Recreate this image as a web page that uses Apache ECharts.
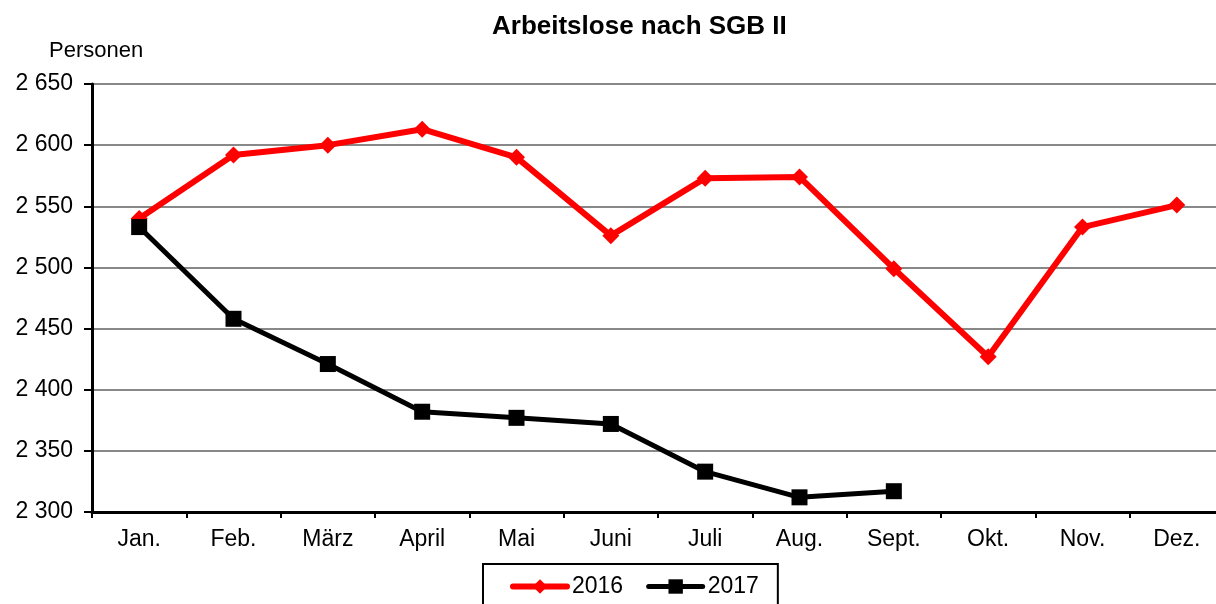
<!DOCTYPE html>
<html>
<head>
<meta charset="utf-8">
<script src="https://cdn.jsdelivr.net/npm/echarts@6/dist/echarts.min.js"></script>
<style>
  html, body { margin: 0; padding: 0; background: #fff; }
  #chart { width: 1216px; height: 604px; }
</style>
</head>
<body>
<div id="chart"></div>
<script>
const categories = ['Jan.', 'Feb.', 'März', 'April', 'Mai', 'Juni', 'Juli', 'Aug.', 'Sept.', 'Okt.', 'Nov.', 'Dez.'];
const values2016 = [2540, 2592, 2600, 2613, 2590, 2526, 2573, 2574, 2499, 2427, 2533, 2551];
const values2017 = [2533, 2458, 2421, 2382, 2377, 2372, 2333, 2312, 2317];
const seriesNames = ['2016', '2017'];
const chartTitle = 'Arbeitslose nach SGB II';
const unitLabel = 'Personen';
const yMin = 2300, yMax = 2650, yStep = 50;

const FONT = '"Liberation Sans", Arial, sans-serif';
const fmt = v => String(v).replace(/\B(?=(\d{3})+(?!\d))/g, ' ');

const chart = echarts.init(document.getElementById('chart'), null, { renderer: 'canvas' });
chart.setOption({
  animation: false,
  backgroundColor: '#ffffff',
  title: [
    { text: chartTitle, left: 492, top: 14, padding: 0,
      textStyle: { fontFamily: FONT, fontSize: 26, fontWeight: 'bold', color: '#000' } },
    { text: unitLabel, left: 49, top: 40, padding: 0,
      textStyle: { fontFamily: FONT, fontSize: 22, fontWeight: 'normal', color: '#000' } }
  ],
  legend: {
    data: [
      { name: seriesNames[0], lineStyle: { width: 6, cap: 'round' } },
      { name: seriesNames[1], lineStyle: { width: 5, cap: 'round' } }
    ],
    left: 483, top: 564,
    orient: 'horizontal',
    padding: [11, 19, 14, 27],
    itemGap: 23,
    itemWidth: 54, itemHeight: 18,
    borderColor: '#000', borderWidth: 2, borderRadius: 0,
    backgroundColor: '#fff',
    textStyle: { fontFamily: FONT, fontSize: 23, color: '#000' }
  },
  grid: { left: 92, top: 84, width: 1132, height: 428, containLabel: false, outerBoundsMode: 'none' },
  xAxis: {
    type: 'category',
    data: categories,
    boundaryGap: true,
    axisLine: { show: true, lineStyle: { color: '#000', width: 3 } },
    axisTick: { show: true, alignWithLabel: false, length: 6, lineStyle: { color: '#000', width: 2 } },
    axisLabel: { margin: 16, fontFamily: FONT, fontSize: 23, color: '#000', interval: 0 },
    splitLine: { show: false }
  },
  yAxis: {
    type: 'value',
    min: yMin, max: yMax, interval: yStep,
    axisLine: { show: true, lineStyle: { color: '#000', width: 3 } },
    axisTick: { show: true, length: 8, lineStyle: { color: '#000', width: 2 } },
    axisLabel: { margin: 19, fontFamily: FONT, fontSize: 23, color: '#000', formatter: fmt },
    splitLine: { show: true, lineStyle: { color: '#888888', width: 2 } }
  },
  series: [
    {
      name: seriesNames[0], type: 'line', data: values2016,
      symbol: 'diamond', symbolSize: 17,
      lineStyle: { color: '#ff0000', width: 6 },
      itemStyle: { color: '#ff0000' },
      z: 2
    },
    {
      name: seriesNames[1], type: 'line', data: values2017,
      symbol: 'rect', symbolSize: 16,
      lineStyle: { color: '#000000', width: 5 },
      itemStyle: { color: '#000000' },
      z: 3
    }
  ]
});
</script>
</body>
</html>
